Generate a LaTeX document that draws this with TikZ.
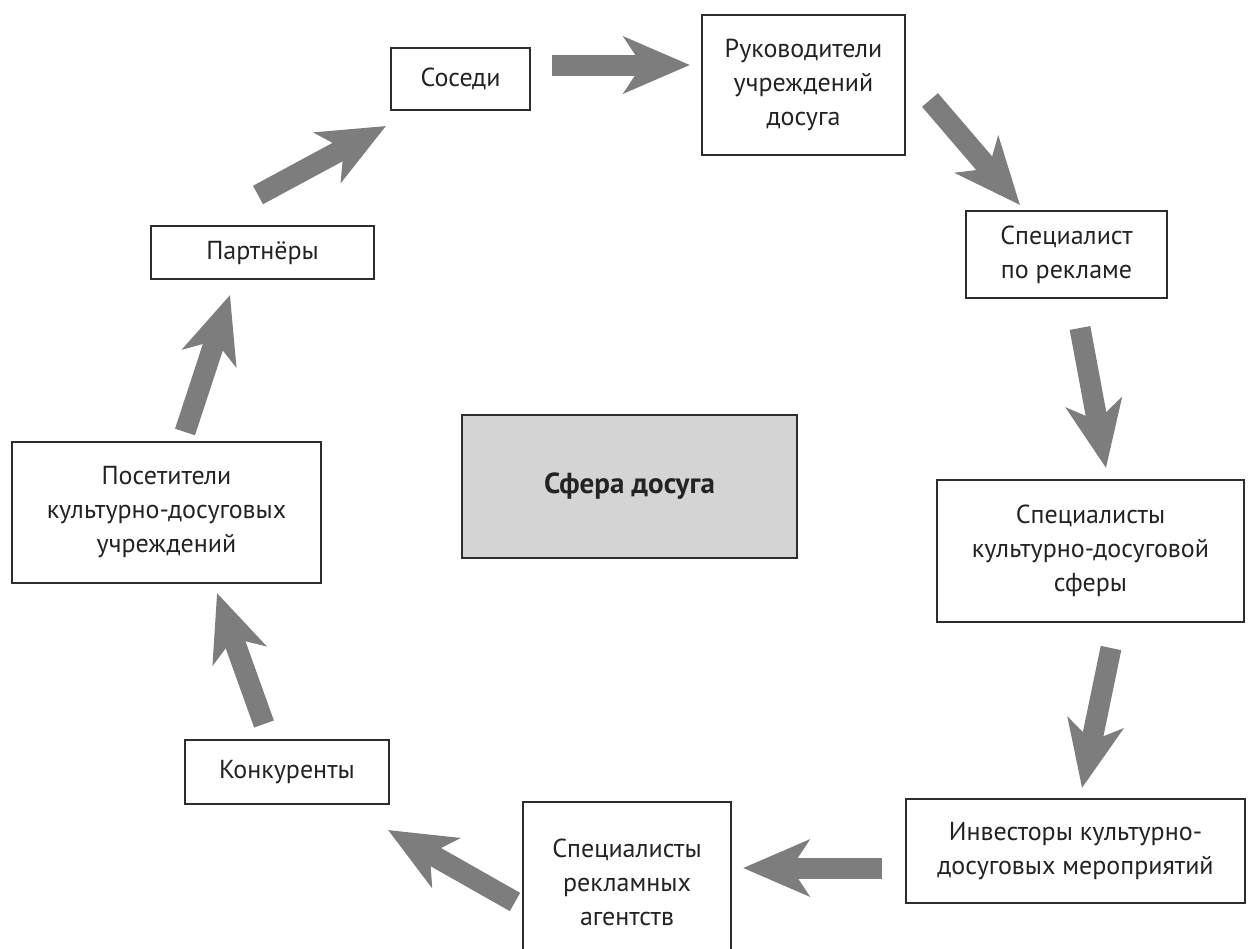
\documentclass[tikz,border=0pt]{standalone}
\usepackage{fontspec}
\setmainfont{PT Sans}
\usetikzlibrary{arrows.meta}
\definecolor{arrowgray}{RGB}{125,125,125}
\definecolor{boxline}{RGB}{45,45,45}
\definecolor{textgray}{RGB}{35,35,35}
\definecolor{spherefill}{RGB}{212,212,212}
\tikzset{
  box/.style={draw=boxline, line width=1.4pt, inner sep=0pt, align=center,
    text=textgray, font=\fontsize{26}{34}\selectfont},
  bigarrow/.style={draw=arrowgray, line width=21pt,
    -{Stealth[length=66pt, width=56pt, inset=18pt, fill=arrowgray]}}
}
\begin{document}
\begin{tikzpicture}[x=1pt,y=-1pt]
\useasboundingbox (0,0) rectangle (1252,948);
\clip (0,0) rectangle (1252,948);
% boxes
\node[box, minimum width=139pt, minimum height=62pt] (sosedi) at (460.5,79) {Соседи};
\node[box, minimum width=203pt, minimum height=140pt] (ruk) at (803.5,85) {Руководители\\учреждений\\досуга};
\node[box, minimum width=201pt, minimum height=87pt] (specrek) at (1066.5,254.5) {Специалист\\по рекламе};
\node[box, minimum width=307pt, minimum height=142pt] (speckds) at (1090.5,551) {Специалисты\\культурно-досуговой\\сферы};
\node[box, minimum width=339pt, minimum height=104pt] (invest) at (1075.5,851) {Инвесторы культурно-\\досуговых мероприятий};
\node[box, minimum width=208pt, minimum height=160pt] (agents) at (627,882) {Специалисты\\рекламных\\агентств};
\node[box, minimum width=204pt, minimum height=64pt] (konk) at (287,772) {Конкуренты};
\node[box, minimum width=309pt, minimum height=141pt] (posetit) at (166.5,512.5) {Посетители\\культурно-досуговых\\учреждений};
\node[box, minimum width=223pt, minimum height=53pt] (partners) at (262.5,252.5) {Партнёры};
\node[box, fill=spherefill, minimum width=335pt, minimum height=143pt, font=\fontsize{29}{34}\selectfont\bfseries] (sfera) at (629.5,486.5) {Сфера досуга};
% arrow end points
\coordinate (a1s) at (258,195); \coordinate (a1e) at (386,126);
\coordinate (a2s) at (552,65);  \coordinate (a2e) at (690,65);
\coordinate (a3s) at (930,100); \coordinate (a3e) at (1020,205);
\coordinate (a4s) at (1080,328); \coordinate (a4e) at (1106,468);
\coordinate (a5s) at (1111,648); \coordinate (a5e) at (1082,788);
\coordinate (a6s) at (882,868); \coordinate (a6e) at (743,868);
\coordinate (a7s) at (515,902); \coordinate (a7e) at (388,830);
\coordinate (a8s) at (264,724); \coordinate (a8e) at (217,593);
\coordinate (a9s) at (185,432); \coordinate (a9e) at (230,295);
% arrows
\draw[bigarrow] (a1s) -- (a1e);
\draw[bigarrow] (a2s) -- (a2e);
\draw[bigarrow] (a3s) -- (a3e);
\draw[bigarrow] (a4s) -- (a4e);
\draw[bigarrow] (a5s) -- (a5e);
\draw[bigarrow] (a6s) -- (a6e);
\draw[bigarrow] (a7s) -- (a7e);
\draw[bigarrow] (a8s) -- (a8e);
\draw[bigarrow] (a9s) -- (a9e);
\end{tikzpicture}
\end{document}
